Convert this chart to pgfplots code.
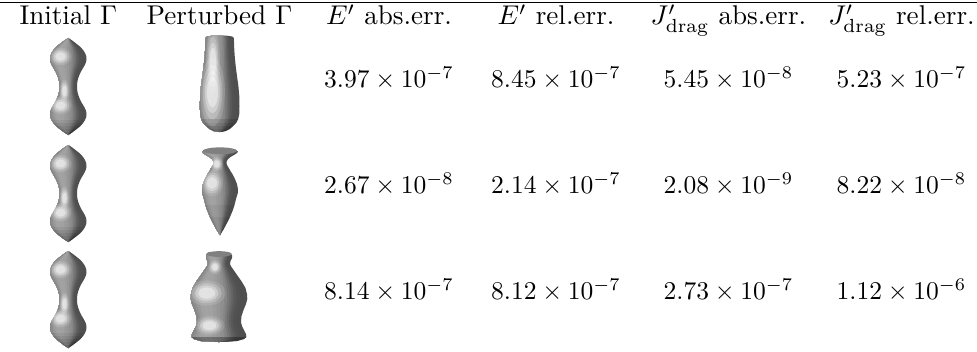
\documentclass[border=0pt]{standalone}
\usepackage{pgfplots}
\pgfplotsset{compat=1.18}
\usepackage{pgfplotstable}

% profiles: t = distance from top of shape, r = half width, s = side
\pgfplotstableread{
t r s
0 0 1
3 4.5 1
6 8.5 1
9 12.2 1
12 14.8 1
15 16.7 1
18 17.9 1
21 18.2 1
24 17.8 1
27 16.5 1
30 14.8 1
33 13 1
36 11.5 1
40 10 1
44 9 1
48.5 8.7 1
53 9 1
57 10 1
61 11.5 1
64 13 1
67 14.8 1
70 16.5 1
73 17.8 1
76 18.2 1
79 17.9 1
82 16.7 1
85 14.8 1
88 12.2 1
91 8.5 1
94 4.5 1
97 0 1
94 4.5 -1
91 8.5 -1
88 12.2 -1
85 14.8 -1
82 16.7 -1
79 17.9 -1
76 18.2 -1
73 17.8 -1
70 16.5 -1
67 14.8 -1
64 13 -1
61 11.5 -1
57 10 -1
53 9 -1
48.5 8.7 -1
44 9 -1
40 10 -1
36 11.5 -1
33 13 -1
30 14.8 -1
27 16.5 -1
24 17.8 -1
21 18.2 -1
18 17.9 -1
15 16.7 -1
12 14.8 -1
9 12.2 -1
6 8.5 -1
3 4.5 -1
}\initial

\pgfplotstableread{
t r s
0 9 1
0.5 12.5 1
2 14.2 1
10 14.4 1
20 15 1
30 16 1
40 17.3 1
50 18.7 1
60 19.6 1
70 19.8 1
78 19.6 1
83 18.5 1
87 16.5 1
90 13.5 1
93 10 1
95 6 1
96 0 1
95 6 -1
93 10 -1
90 13.5 -1
87 16.5 -1
83 18.5 -1
78 19.6 -1
70 19.8 -1
60 19.6 -1
50 18.7 -1
40 17.3 -1
30 16 -1
20 15 -1
10 14.4 -1
2 14.2 -1
0.5 12.5 -1
0 9 -1
}\vaseA

\pgfplotstableread{
t r s
0 10 1
1.5 16 1
2.5 18 1
4 17 1
6 14 1
8 10.5 1
10 8 1
12 6.8 1
14 6.5 1
16 7 1
19 8.8 1
22 10.5 1
26 13 1
30 15 1
35 17 1
40 18 1
44 17.8 1
50 16 1
56 14.5 1
62 12.5 1
68 10 1
74 7 1
80 3.8 1
86 0 1
80 3.8 -1
74 7 -1
68 10 -1
62 12.5 -1
56 14.5 -1
50 16 -1
44 17.8 -1
40 18 -1
35 17 -1
30 15 -1
26 13 -1
22 10.5 -1
19 8.8 -1
16 7 -1
14 6.5 -1
12 6.8 -1
10 8 -1
8 10.5 -1
6 14 -1
4 17 -1
2.5 18 -1
1.5 16 -1
0 10 -1
}\vaseB

\pgfplotstableread{
t r s
0 6 1
1 11 1
3 13 1
6 13 1
9 11.5 1
12 11 1
15 12.5 1
20 16 1
25 19.5 1
30 23 1
36 26.5 1
42 28 1
47 28.3 1
52 27 1
58 24.5 1
64 22.5 1
70 22 1
74 23 1
78 25 1
82 27 1
85 27.4 1
87 25 1
89 18 1
90 0 1
89 18 -1
87 25 -1
85 27.4 -1
82 27 -1
78 25 -1
74 23 -1
70 22 -1
64 22.5 -1
58 24.5 -1
52 27 -1
47 28.3 -1
42 28 -1
36 26.5 -1
30 23 -1
25 19.5 -1
20 16 -1
15 12.5 -1
12 11 -1
9 11.5 -1
6 13 -1
3 13 -1
1 11 -1
0 6 -1
}\vaseC

% one shading step: region from the left edge to fraction #4 of the half width
\newcommand{\band}[5]{\addplot[draw=none,fill=black!#5] table[x expr={#2+\thisrow{r}*(\thisrow{s}>0?#4:-1)},y expr={#3+\thisrow{t}}] {#1};}
\newcommand{\body}[3]{%
\band{#1}{#2}{#3}{1}{69}
\band{#1}{#2}{#3}{0.9}{69}
\band{#1}{#2}{#3}{0.75}{68}
\band{#1}{#2}{#3}{0.62}{65}
\band{#1}{#2}{#3}{0.52}{61}
\band{#1}{#2}{#3}{0.44}{57}
\band{#1}{#2}{#3}{0.36}{53}
\band{#1}{#2}{#3}{0.28}{48}
\band{#1}{#2}{#3}{0.18}{44}
\band{#1}{#2}{#3}{0.05}{41}
\band{#1}{#2}{#3}{-0.1}{39}
\band{#1}{#2}{#3}{-0.25}{37}
\band{#1}{#2}{#3}{-0.45}{36}
\band{#1}{#2}{#3}{-0.6}{37}
\band{#1}{#2}{#3}{-0.72}{40}
\band{#1}{#2}{#3}{-0.84}{44}
\band{#1}{#2}{#3}{-0.94}{48}
}
% darkening of the lower end of a shape: table, cx, y0, from y, opacity
\newcommand{\darken}[5]{\addplot[draw=none,fill=black,fill opacity=#5,restrict y to domain=#4:1000] table[x expr={#2+\thisrow{r}*\thisrow{s}},y expr={#3+\thisrow{t}}] {#1};}
% soft highlight: nested translucent marks
\pgfplotsset{glowstyle/.style={only marks,mark=*,forget plot}}
\newcommand{\glow}[5]{%
\addplot[glowstyle,mark size=#3*1.0pt,mark options={draw opacity=0,fill=white,fill opacity=0.12,xscale=#4,rotate=#5}] coordinates {(#1,#2)};
\addplot[glowstyle,mark size=#3*0.8pt,mark options={draw opacity=0,fill=white,fill opacity=0.2,xscale=#4,rotate=#5}] coordinates {(#1,#2)};
\addplot[glowstyle,mark size=#3*0.62pt,mark options={draw opacity=0,fill=white,fill opacity=0.3,xscale=#4,rotate=#5}] coordinates {(#1,#2)};
\addplot[glowstyle,mark size=#3*0.45pt,mark options={draw opacity=0,fill=white,fill opacity=0.4,xscale=#4,rotate=#5}] coordinates {(#1,#2)};
}
\newcommand{\rim}[5]{\addplot[glowstyle,mark size=#3,mark options={draw opacity=0,fill=black!#4,xscale=#5}] coordinates {(#1,#2)};}
% y0, start rows of the lower darkening, three highlight rows
\newcommand{\initialshape}[9]{%
\body{\initial}{68.3}{#1}
\darken{\initial}{68.3}{#1}{#2}{0.06}
\darken{\initial}{68.3}{#1}{#3}{0.07}
\darken{\initial}{68.3}{#1}{#4}{0.08}
\darken{\initial}{68.3}{#1}{#5}{0.08}
\darken{\initial}{68.3}{#1}{#6}{0.1}
\glow{60.5}{#7}{3.4}{1.25}{0}
\glow{60.5}{#8}{3.4}{1.25}{0}
\glow{64.5}{#9}{4.4}{0.42}{-18}
}
\tikzset{hd/.style={anchor=base,scale=1.03},val/.style={anchor=base,scale=0.97}}

\begin{document}
\begin{tikzpicture}
\useasboundingbox (0,0) rectangle (371pt,133.3pt);
\begin{axis}[
    at={(0,0)}, anchor=south west,
    scale only axis,
    width=371pt, height=133.3pt,
    xmin=0, xmax=977, ymin=0, ymax=351,
    y dir=reverse,
    hide axis, clip=false,
    every node/.append style={inner sep=0pt,outer sep=0pt},
]
\addplot[black,line width=0.4pt] coordinates {(0,2.3) (977,2.3)};

\initialshape{38}{118}{121}{124}{127}{130}{56.5}{105.5}{91}
\initialshape{145}{225}{228}{231}{234}{237}{163.5}{212.5}{198}
\initialshape{251}{331}{334}{337}{340}{343}{269.5}{318.5}{304}

\body{\vaseA}{219.7}{36}
\darken{\vaseA}{219.7}{36}{116}{0.06}
\darken{\vaseA}{219.7}{36}{119}{0.07}
\darken{\vaseA}{219.7}{36}{122}{0.08}
\darken{\vaseA}{219.7}{36}{125}{0.09}
\darken{\vaseA}{219.7}{36}{128}{0.1}
\glow{213}{62}{12}{0.22}{0}
\glow{212.5}{92}{13}{0.36}{0}

\body{\vaseB}{220}{149}
\darken{\vaseB}{220}{149}{205}{0.05}
\darken{\vaseB}{220}{149}{215}{0.06}
\rim{220}{150.8}{1.3}{50}{5}
\glow{212}{183}{5}{0.85}{0}
\glow{216.7}{164}{2.8}{0.9}{0}

\body{\vaseC}{219}{252}
\darken{\vaseC}{219}{252}{336}{0.3}
\rim{219}{254}{1.1}{50}{4.4}
\glow{206.7}{293}{4.8}{1.5}{0}
\glow{209.5}{325.5}{3.6}{1.6}{0}
\glow{215}{267}{2.8}{0.9}{0}

\node[hd] at (axis cs:68.3,25) {Initial $\Gamma$};
\node[hd] at (axis cs:219.5,25) {Perturbed $\Gamma$};
\node[hd] at (axis cs:389,25) {$E'$ abs.err.};
\node[hd] at (axis cs:556,25) {$E'$ rel.err.};
\node[hd] at (axis cs:728.5,25) {$J'_{\mathrm{drag}}$ abs.err.};
\node[hd] at (axis cs:901.5,25) {$J'_{\mathrm{drag}}$ rel.err.};

\node[val] at (axis cs:389,87.5) {$3.97\times10^{-7}$};
\node[val] at (axis cs:556,87.5) {$8.45\times10^{-7}$};
\node[val] at (axis cs:728.5,87.5) {$5.45\times10^{-8}$};
\node[val] at (axis cs:901.5,87.5) {$5.23\times10^{-7}$};

\node[val] at (axis cs:389,193.5) {$2.67\times10^{-8}$};
\node[val] at (axis cs:556,193.5) {$2.14\times10^{-7}$};
\node[val] at (axis cs:728.5,193.5) {$2.08\times10^{-9}$};
\node[val] at (axis cs:901.5,193.5) {$8.22\times10^{-8}$};

\node[val] at (axis cs:389,299.5) {$8.14\times10^{-7}$};
\node[val] at (axis cs:556,299.5) {$8.12\times10^{-7}$};
\node[val] at (axis cs:728.5,299.5) {$2.73\times10^{-7}$};
\node[val] at (axis cs:901.5,299.5) {$1.12\times10^{-6}$};
\end{axis}
\end{tikzpicture}
\end{document}
